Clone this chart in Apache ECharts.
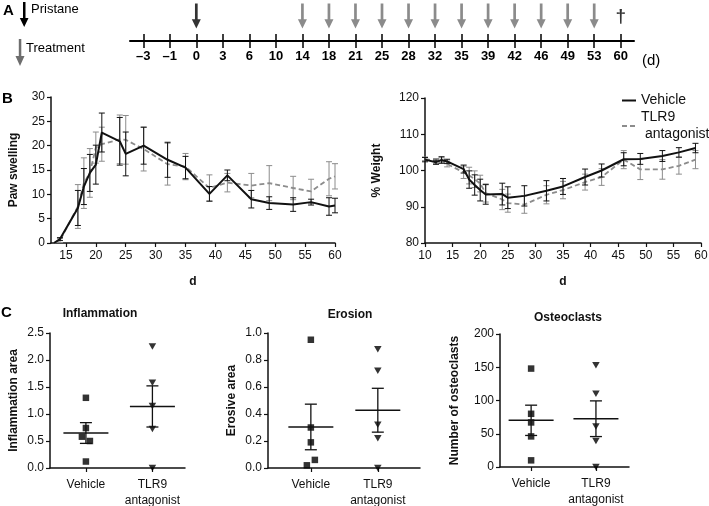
<!DOCTYPE html>
<html lang="en">
<head>
<meta charset="UTF-8">
<title>pristane arthritis</title>
<script src="https://cdn.jsdelivr.net/npm/echarts@6/dist/echarts.min.js"></script>
<style>
    html, body { margin: 0; padding: 0; background: #fff; }
    #main { width: 709px; height: 506px; }
</style>
</head>
<body>
<div id="main"></div>
<script>
// A: time line (days) and arrows
var timeDays = ['–3', '–1', '0', '3', '6', '10', '14', '18', '21', '25', '28', '32', '35', '39', '42', '46', '49', '53', '60'];
var pristaneDays = ['0'];
var treatDays = ['14', '18', '21', '25', '28', '32', '35', '39', '42', '46', '49', '53'];
var endDays = ['60'];

// B left: paw swelling (mean, sem)
var pawDays = [13, 14, 17, 18, 19, 20, 21, 24, 25, 28, 32, 35, 39, 42, 46, 49, 53, 56, 59, 60];
var pawVeh = [0, 0.8, 7.2, 11.6, 14.4, 16.1, 22.7, 20.9, 18.3, 20.0, 17.1, 15.5, 10.1, 13.9, 9.0, 8.2, 7.9, 8.4, 7.5, 7.7];
var pawVehErr = [0, 0.3, 3.6, 3.7, 3.8, 4.0, 4.0, 4.9, 4.5, 3.8, 3.6, 2.3, 1.5, 1.1, 1.8, 1.3, 1.4, 0.6, 1.8, 1.5];
var pawTlr = [0, 0.5, 7.5, 12.3, 14.4, 19.6, 20.3, 21.3, 21.2, 19.3, 16.2, 15.7, 11.3, 12.4, 11.8, 12.3, 11.3, 10.6, 13.2, 13.7];
var pawTlrErr = [0, 0.4, 4.5, 5.2, 5.0, 3.2, 3.5, 5.0, 5.0, 4.5, 4.3, 2.7, 2.7, 1.9, 2.5, 3.6, 2.4, 2.5, 3.5, 2.6];
var pawTicks = [15, 20, 25, 30, 35, 40, 45, 50, 55, 60];

// B right: % weight (mean, sem)
var wDays = [10, 12, 13, 14, 17, 18, 19, 20, 21, 24, 25, 28, 32, 35, 39, 42, 46, 49, 53, 56, 59];
var wVeh = [103.0, 102.3, 102.9, 102.5, 100.4, 97.5, 96.0, 94.6, 93.4, 93.5, 92.5, 93.0, 94.4, 95.6, 98.2, 100.0, 103.1, 103.2, 104.0, 105.0, 106.2];
var wVehErr = [0.6, 0.6, 0.9, 0.6, 1.1, 2.4, 2.8, 3.0, 2.7, 3.0, 3.0, 2.8, 2.8, 2.2, 2.2, 1.8, 1.8, 1.5, 1.5, 1.3, 1.3];
var wTlr = [103.2, 102.6, 102.8, 101.8, 99.5, 98.6, 97.6, 96.4, 93.8, 92.0, 91.0, 90.6, 93.3, 94.6, 96.8, 98.2, 103.0, 100.3, 100.3, 101.3, 103.0];
var wTlrErr = [0.5, 0.7, 0.7, 0.8, 1.7, 2.3, 2.3, 2.3, 2.5, 2.8, 2.5, 2.4, 2.5, 2.4, 2.2, 2.3, 2.5, 2.8, 2.7, 2.3, 2.5];

// C: single animals
var groups = ['Vehicle', 'TLR9\nantagonist'];
var inflVeh = [1.30, 0.74, 0.58, 0.50, 0.12];
var inflTlr = [2.25, 1.58, 1.15, 0.72, 0.0];
var erosVeh = [0.95, 0.30, 0.19, 0.06, 0.02];
var erosTlr = [0.88, 0.72, 0.32, 0.22, 0.0];
var osteoVeh = [148, 80, 67, 46, 10];
var osteoTlr = [153, 110, 61, 39, 0];

var FONT = '"Liberation Sans", Arial, sans-serif';
var BLACK = '#111';
var GREY = '#8c8c8c';
var ARROW = 'path://M3.5,0 L6.5,0 L6.5,15 L10,15 L5,24 L0,15 L3.5,15 Z';

var chart = echarts.init(document.getElementById('main'));

function axisBase(extra) {
    var a = {
        axisLine: {show: true, onZero: false, lineStyle: {color: BLACK, width: 1.5}},
        axisTick: {show: true, length: 4, lineStyle: {color: BLACK, width: 1.2}},
        axisLabel: {color: BLACK, fontFamily: FONT, fontSize: 12},
        splitLine: {show: false},
        nameTextStyle: {color: BLACK, fontFamily: FONT, fontSize: 12, fontWeight: 'bold'}
    };
    for (var k in extra) a[k] = extra[k];
    return a;
}

function errSeries(xi, days, mean, err, color, z) {
    var data = [];
    days.forEach(function (d, i) {
        if (err[i] > 0) data.push([d, mean[i] - err[i], mean[i] + err[i]]);
    });
    return {
        type: 'custom', xAxisIndex: xi, yAxisIndex: xi, z: z, silent: true,
        encode: {x: 0, y: [1, 2]},
        data: data,
        renderItem: function (params, api) {
            var lo = api.coord([api.value(0), api.value(1)]);
            var hi = api.coord([api.value(0), api.value(2)]);
            var st = {stroke: color, lineWidth: 1};
            return {type: 'group', children: [
                {type: 'line', shape: {x1: lo[0], y1: lo[1], x2: hi[0], y2: hi[1]}, style: st},
                {type: 'line', shape: {x1: lo[0] - 3, y1: lo[1], x2: lo[0] + 3, y2: lo[1]}, style: st},
                {type: 'line', shape: {x1: hi[0] - 3, y1: hi[1], x2: hi[0] + 3, y2: hi[1]}, style: st}
            ]};
        }
    };
}

function lineSeries(name, xi, days, vals, dashed, z) {
    return {
        name: name, type: 'line', xAxisIndex: xi, yAxisIndex: xi, z: z,
        symbol: 'none', animation: false,
        data: days.map(function (d, i) { return [d, vals[i]]; }),
        lineStyle: dashed ? {color: GREY, width: 1.8, type: [5, 3]} : {color: BLACK, width: 2},
        itemStyle: {color: dashed ? GREY : BLACK}
    };
}

// horizontal dodge for points that sit too close together
function dodge(vals, range) {
    var order = vals.map(function (v, i) { return i; }).sort(function (a, b) { return vals[b] - vals[a]; });
    var off = vals.map(function () { return 0; });
    var clusters = [], cur = [order[0]];
    for (var k = 1; k < order.length; k++) {
        if ((vals[cur[cur.length - 1]] - vals[order[k]]) / range < 0.0645) cur.push(order[k]);
        else { clusters.push(cur); cur = [order[k]]; }
    }
    clusters.push(cur);
    clusters.forEach(function (c) {
        if (c.length === 2) { off[c[0]] = 4; off[c[1]] = -4; }
        if (c.length === 3) { off[c[1]] = -4; off[c[2]] = 4; }
    });
    return off;
}

function stats(vals) {
    var n = vals.length, m = 0, s = 0;
    vals.forEach(function (v) { m += v; });
    m /= n;
    vals.forEach(function (v) { s += (v - m) * (v - m); });
    var sem = Math.sqrt(s / (n - 1)) / Math.sqrt(n);
    return [m, m - sem, m + sem];
}

function dotSeries(ai, veh, tlr, range) {
    var out = [];
    [veh, tlr].forEach(function (vals, g) {
        var off = dodge(vals, range);
        out.push({
            type: 'scatter', xAxisIndex: ai, yAxisIndex: ai, silent: true,
            symbol: g === 0 ? 'rect' : 'triangle',
            symbolSize: g === 0 ? 6.5 : [7.5, 6.5],
            symbolRotate: g === 0 ? 0 : 180,
            itemStyle: {color: '#000'},
            data: vals.map(function (v, i) { return {value: [g, v], symbolOffset: [off[i], 0]}; })
        });
    });
    out.push({
        type: 'custom', xAxisIndex: ai, yAxisIndex: ai, silent: true, z: 3,
        encode: {x: 0, y: [1, 2, 3]},
        data: [veh, tlr].map(function (vals, g) { return [g].concat(stats(vals)); }),
        renderItem: function (params, api) {
            var m = api.coord([api.value(0), api.value(1)]);
            var lo = api.coord([api.value(0), api.value(2)]);
            var hi = api.coord([api.value(0), api.value(3)]);
            var st = {stroke: BLACK, lineWidth: 1.3};
            return {type: 'group', children: [
                {type: 'line', shape: {x1: m[0] - 22.5, y1: m[1], x2: m[0] + 22.5, y2: m[1]}, style: {stroke: BLACK, lineWidth: 1.6}},
                {type: 'line', shape: {x1: lo[0], y1: lo[1], x2: hi[0], y2: hi[1]}, style: st},
                {type: 'line', shape: {x1: lo[0] - 6, y1: lo[1], x2: lo[0] + 6, y2: lo[1]}, style: st},
                {type: 'line', shape: {x1: hi[0] - 6, y1: hi[1], x2: hi[0] + 6, y2: hi[1]}, style: st}
            ]};
        }
    });
    return out;
}

function groupAxis(gi, min, max) {
    return axisBase({
        type: 'value', gridIndex: gi, min: min, max: max,
        axisTick: {show: true, length: 4, customValues: [0, 1], lineStyle: {color: BLACK, width: 1.2}},
        axisLabel: {color: BLACK, fontFamily: FONT, fontSize: 12, lineHeight: 16, margin: 9,
            customValues: [0, 1], formatter: function (v) { return groups[Math.round(v)]; }}
    });
}

function valAxis(gi, min, max, interval, name, gap, dec) {
    return axisBase({
        type: 'value', gridIndex: gi, min: min, max: max, interval: interval,
        name: name, nameLocation: 'middle', nameGap: gap,
        axisLabel: {color: BLACK, fontFamily: FONT, fontSize: 12, margin: 6,
            formatter: function (v) { return dec ? v.toFixed(dec) : String(v); }}
    });
}

function grid(l, t, w, h) {
    return {left: l, top: t, width: w, height: h, outerBoundsMode: 'none', containLabel: false};
}

var series = [];
// A arrows
series.push({
    type: 'scatter', xAxisIndex: 0, yAxisIndex: 0, silent: true,
    symbol: ARROW, symbolSize: [9, 25], symbolKeepAspect: false,
    itemStyle: {color: '#000'},
    data: pristaneDays.map(function (d) { return [d, 25]; })
});
series.push({
    type: 'scatter', xAxisIndex: 0, yAxisIndex: 0, silent: true,
    symbol: ARROW, symbolSize: [9, 25], symbolKeepAspect: false,
    itemStyle: {color: '#6e6e6e'},
    data: treatDays.map(function (d) { return [d, 25]; })
});
series.push({
    type: 'scatter', xAxisIndex: 0, yAxisIndex: 0, silent: true,
    symbolSize: 1, itemStyle: {color: 'rgba(0,0,0,0)'},
    label: {show: true, position: 'inside', formatter: '†', color: '#000',
        fontFamily: FONT, fontSize: 19, fontWeight: 'bold'},
    data: endDays.map(function (d) { return [d, 24]; })
});

// B left (axis index 2)
series.push(errSeries(2, pawDays, pawTlr, pawTlrErr, GREY, 1));
series.push(lineSeries('TLR9 antagonist', 2, pawDays, pawTlr, true, 2));
series.push(errSeries(2, pawDays, pawVeh, pawVehErr, BLACK, 3));
series.push(lineSeries('Vehicle', 2, pawDays, pawVeh, false, 4));
// B right (axis index 3)
series.push(errSeries(3, wDays, wTlr, wTlrErr, GREY, 1));
series.push(lineSeries('TLR9 antagonist', 3, wDays, wTlr, true, 2));
series.push(errSeries(3, wDays, wVeh, wVehErr, BLACK, 3));
series.push(lineSeries('Vehicle', 3, wDays, wVeh, false, 4));
// C
series = series.concat(dotSeries(4, inflVeh, inflTlr, 2.5));
series = series.concat(dotSeries(5, erosVeh, erosTlr, 1.0));
series = series.concat(dotSeries(6, osteoVeh, osteoTlr, 200));

var titleStyle = {color: BLACK, fontFamily: FONT, fontSize: 12, fontWeight: 'bold'};

chart.setOption({
    animation: false,
    backgroundColor: '#fff',
    textStyle: {fontFamily: FONT},
    title: [
        {text: 'Inflammation', left: 95, top: 303, textAlign: 'center', textStyle: titleStyle},
        {text: 'Erosion', left: 345, top: 304, textAlign: 'center', textStyle: titleStyle},
        {text: 'Osteoclasts', left: 563, top: 307, textAlign: 'center', textStyle: titleStyle}
    ],
    legend: {
        orient: 'vertical', left: 616, top: 87, itemWidth: 14, itemHeight: 10, itemGap: 0,
        data: ['Vehicle', 'TLR9 antagonist'],
        itemStyle: {opacity: 0},
        formatter: function (n) { return n === 'Vehicle' ? n : 'TLR9\n antagonist'; },
        textStyle: {color: BLACK, fontFamily: FONT, fontSize: 14, lineHeight: 17}
    },
    grid: [
        grid(130, 0, 504, 41),
        grid(130, 0, 504, 41),
        grid(51, 97, 284, 146),
        grid(425, 98, 276, 145),
        grid(50, 333, 135, 135),
        grid(268, 333, 152, 135),
        grid(500, 334, 129, 133)
    ],
    xAxis: [
        axisBase({
            type: 'category', gridIndex: 0, data: timeDays,
            axisLine: {show: true, lineStyle: {color: '#000', width: 2}},
            axisTick: {show: true, alignWithLabel: true, length: 7, lineStyle: {color: '#000', width: 1.5}},
            axisLabel: {color: '#000', fontFamily: FONT, fontSize: 13, fontWeight: 'bold', margin: 9},
            name: '(d)', nameLocation: 'end', nameGap: 8,
            nameTextStyle: {color: '#000', fontFamily: FONT, fontSize: 15, verticalAlign: 'top', padding: [12, 0, 0, 0]}
        }),
        {
            type: 'category', gridIndex: 1, data: timeDays, position: 'bottom',
            axisLine: {show: false}, axisLabel: {show: false}, splitLine: {show: false},
            axisTick: {show: true, inside: true, alignWithLabel: true, length: 7, lineStyle: {color: '#000', width: 1.5}}
        },
        axisBase({
            type: 'value', gridIndex: 2, min: 12.5, max: 60, name: 'd', nameLocation: 'middle', nameGap: 33,
            axisTick: {show: true, length: 4, customValues: pawTicks, lineStyle: {color: BLACK, width: 1.2}},
            axisLabel: {color: BLACK, fontFamily: FONT, fontSize: 12, margin: 7, customValues: pawTicks}
        }),
        axisBase({
            type: 'value', gridIndex: 3, min: 10, max: 60, interval: 5, name: 'd', nameLocation: 'middle', nameGap: 33,
            axisLabel: {color: BLACK, fontFamily: FONT, fontSize: 12, margin: 7}
        }),
        groupAxis(4, -0.54, 1.49),
        groupAxis(5, -0.64, 1.63),
        groupAxis(6, -0.48, 1.51)
    ],
    yAxis: [
        {type: 'value', gridIndex: 0, min: 0, max: 41, show: false},
        {type: 'value', gridIndex: 1, min: 0, max: 41, show: false},
        valAxis(2, 0, 30, 5, 'Paw swelling', 31, 0),
        valAxis(3, 80, 120, 10, '% Weight', 42, 0),
        valAxis(4, 0, 2.5, 0.5, 'Inflammation area', 30, 1),
        valAxis(5, 0, 1.0, 0.2, 'Erosive area', 30, 1),
        valAxis(6, 0, 200, 50, 'Number of osteoclasts', 39, 0)
    ],
    graphic: [
        {type: 'text', left: 3, top: 3, style: {text: 'A', font: 'bold 15px ' + FONT, fill: '#000'}},
        {type: 'text', left: 2, top: 91, style: {text: 'B', font: 'bold 15px ' + FONT, fill: '#000'}},
        {type: 'text', left: 1, top: 305, style: {text: 'C', font: 'bold 15px ' + FONT, fill: '#000'}},
        {type: 'polygon', shape: {points: [[23, 2], [25.5, 2], [25.5, 18], [28.5, 18], [24.2, 27], [19.8, 18], [23, 18]]}, style: {fill: '#000'}},
        {type: 'text', left: 31, top: 3, style: {text: 'Pristane', font: '13px ' + FONT, fill: '#000'}},
        {type: 'polygon', shape: {points: [[18.8, 39], [21.3, 39], [21.3, 56], [24.5, 56], [20, 66], [15.5, 56], [18.8, 56]]}, style: {fill: '#6e6e6e'}},
        {type: 'text', left: 26, top: 42, style: {text: 'Treatment', font: '13px ' + FONT, fill: '#000'}}
    ],
    series: series
});
</script>
</body>
</html>
